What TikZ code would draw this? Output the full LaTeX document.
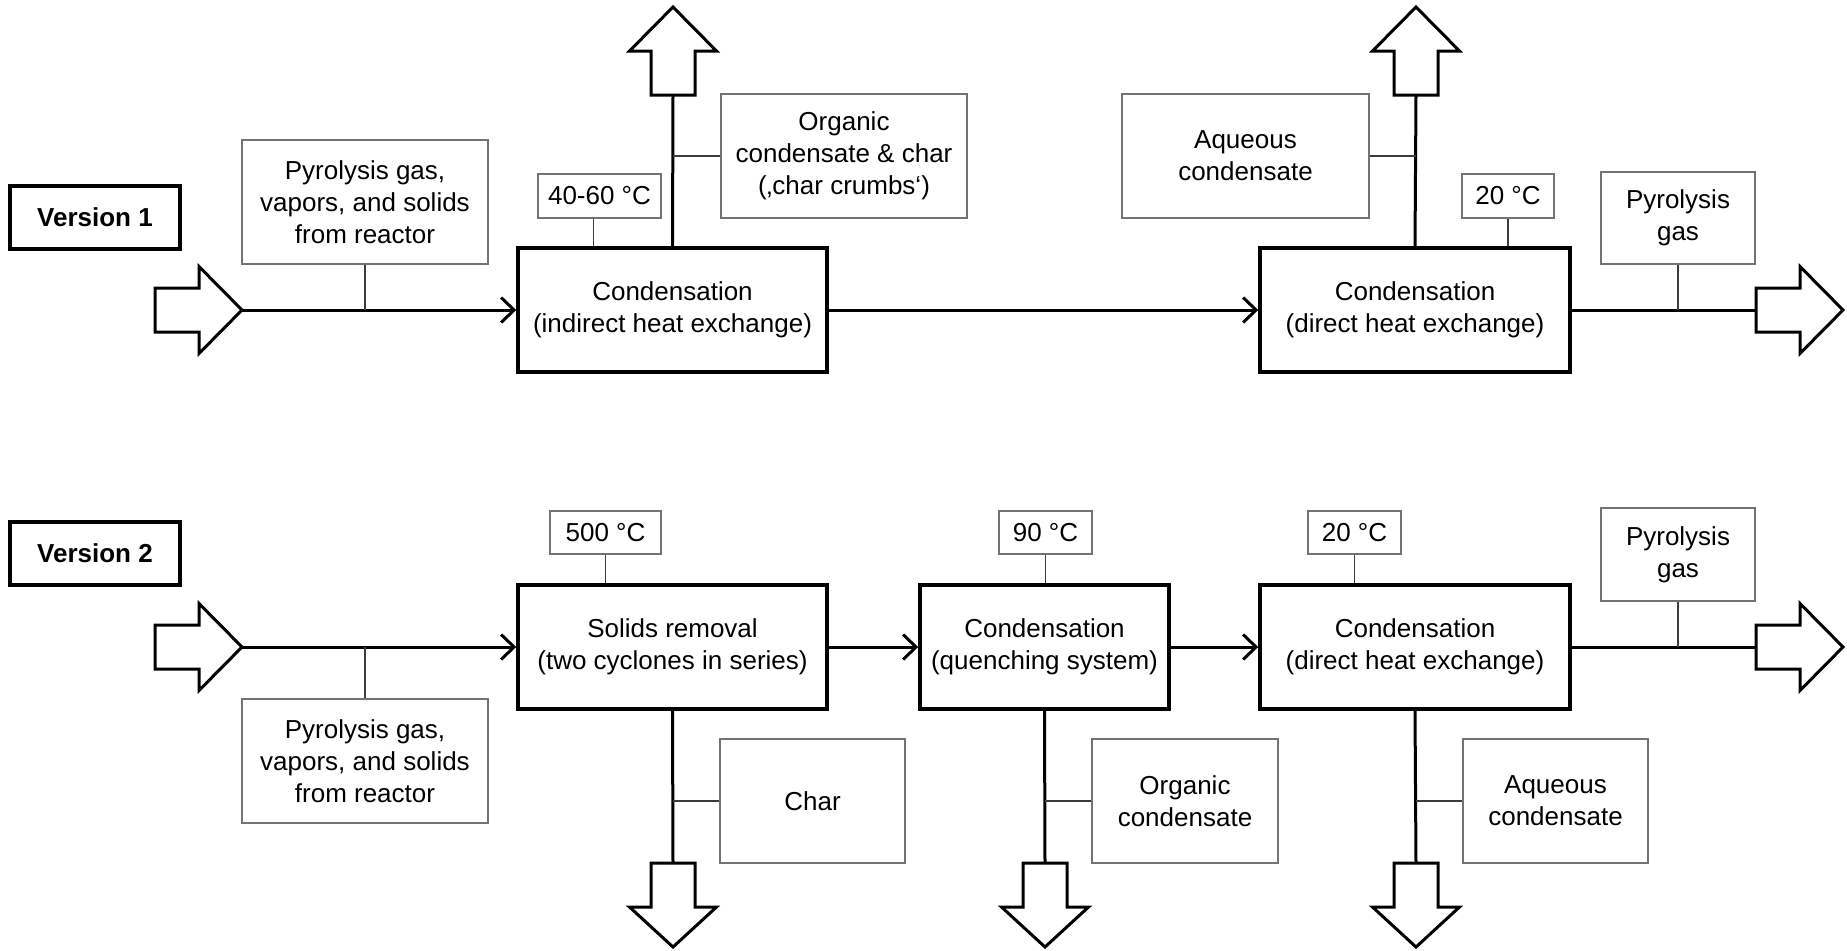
\documentclass[tikz,border=0pt]{standalone}
\usepackage{fontspec}
\setmainfont{Liberation Sans}
\usetikzlibrary{arrows.meta}
\definecolor{labgray}{RGB}{115,115,115}
\definecolor{tiegray}{RGB}{60,60,60}
\begin{document}
\begin{tikzpicture}[x=0.5pt,y=-0.5pt,
  every node/.style={font=\fontsize{13pt}{15.9pt}\selectfont},
  proc/.style={draw, line width=1.75pt, align=center, inner sep=0pt, fill=white, minimum height=62pt},
  lab/.style={draw=labgray, line width=0.6pt, align=center, inner sep=0pt, fill=white},
  vbox/.style={draw, line width=1.75pt, inner sep=0pt, minimum width=85pt, minimum height=31.5pt, font=\fontsize{13pt}{15.9pt}\selectfont\bfseries},
  flow/.style={line width=1.5pt},
  flowarr/.style={line width=1.5pt, -{Straight Barb[length=6.5pt,width=12.5pt]}},
  tie/.style={line width=0.6pt, draw=tiegray},
  fat/.style={line width=1.5pt, fill=white, line join=miter}]
\useasboundingbox (0,0) rectangle (1847,950);

% ---------- Version 1 ----------
\node[vbox] (v1) at (95,217.5) {Version 1};
\node[proc, minimum width=154.5pt] (p1) at (672.5,310) {Condensation\\(indirect heat exchange)};
\node[proc, minimum width=155pt] (p2) at (1415,310) {Condensation\\(direct heat exchange)};

\node[lab, minimum width=123pt, minimum height=62pt] (feed1) at (365,202) {Pyrolysis gas,\\vapors, and solids\\from reactor};
\node[lab, minimum width=61.5pt, minimum height=22pt] (t1) at (599.5,196) {40-60 °C};
\node[lab, minimum width=123pt, minimum height=62pt] (org1) at (844,156) {Organic\\condensate \& char\\(‚char crumbs‘)};
\node[lab, minimum width=123.5pt, minimum height=62pt] (aq1) at (1245.5,156) {Aqueous\\condensate};
\node[lab, minimum width=46pt, minimum height=22pt] (t2) at (1508,196) {20 °C};
\node[lab, minimum width=77pt, minimum height=46pt] (gas1) at (1678,218) {Pyrolysis\\gas};

\coordinate (in1) at (242,310);
\coordinate (out1) at (1756,310);
\coordinate (up1) at (673,95);
\coordinate (up2) at (1416,95);

\draw[fat] (in1) -- (199,266.5) -- (199,288) -- (155,288) -- (155,332) -- (199,332) -- (199,353.5) -- cycle;
\draw[fat] (1843,310) -- (1800,266.5) -- (1800,288) -- (1756,288) -- (1756,332) -- (1800,332) -- (1800,353.5) -- cycle;
\draw[fat] (673,7) -- (629.5,51) -- (651,51) -- (651,95) -- (695,95) -- (695,51) -- (716.5,51) -- cycle;
\draw[fat] (1416,7) -- (1372.5,51) -- (1394,51) -- (1394,95) -- (1438,95) -- (1438,51) -- (1459.5,51) -- cycle;

\draw[flowarr] (in1) -- (p1.west);
\draw[flowarr] (p1.east) -- (p2.west);
\draw[flow] (p2.east) -- (out1);
\draw[flow] (p1.north) -- (up1);
\draw[flow] (p2.north) -- (up2);

\draw[tie] (feed1.south) -- (feed1.south |- in1);
\draw[tie] ([xshift=-3pt]t1.south) -- ([xshift=-3pt]t1.south |- p1.north);
\draw[tie] (org1.west) -- (org1.west -| up1);
\draw[tie] (aq1.east) -- (aq1.east -| up2);
\draw[tie] (t2.south) -- (t2.south |- p2.north);
\draw[tie] (gas1.south) -- (gas1.south |- out1);

% ---------- Version 2 ----------
\node[vbox] (v2) at (95,553.5) {Version 2};
\node[proc, minimum width=154.5pt] (s1) at (672.5,647) {Solids removal\\(two cyclones in series)};
\node[proc, minimum width=124.5pt] (q1) at (1044.5,647) {Condensation\\(quenching system)};
\node[proc, minimum width=155pt] (s3) at (1415,647) {Condensation\\(direct heat exchange)};

\node[lab, minimum width=123pt, minimum height=62pt] (feed2) at (365,761) {Pyrolysis gas,\\vapors, and solids\\from reactor};
\node[lab, minimum width=55.5pt, minimum height=21.5pt] (t3) at (605.5,532.5) {500 °C};
\node[lab, minimum width=46.5pt, minimum height=21.5pt] (t4) at (1045.5,532.5) {90 °C};
\node[lab, minimum width=46.5pt, minimum height=21.5pt] (t5) at (1354.5,532.5) {20 °C};
\node[lab, minimum width=77pt, minimum height=46.5pt] (gas2) at (1678,554.5) {Pyrolysis\\gas};
\node[lab, minimum width=92.5pt, minimum height=62pt] (char) at (812.5,801) {Char};
\node[lab, minimum width=93pt, minimum height=62pt] (org2) at (1185,801) {Organic\\condensate};
\node[lab, minimum width=92.5pt, minimum height=62pt] (aq2) at (1555.5,801) {Aqueous\\condensate};

\coordinate (in2) at (242,647);
\coordinate (out2) at (1756,647);
\coordinate (dn1) at (673,863);
\coordinate (dn2) at (1045,863);
\coordinate (dn3) at (1416,863);

\draw[fat] (in2) -- (199,603.5) -- (199,625) -- (155,625) -- (155,669) -- (199,669) -- (199,690.5) -- cycle;
\draw[fat] (1843,647) -- (1800,603.5) -- (1800,625) -- (1756,625) -- (1756,669) -- (1800,669) -- (1800,690.5) -- cycle;
\draw[fat] (673,947) -- (629.5,907) -- (651,907) -- (651,863) -- (695,863) -- (695,907) -- (716.5,907) -- cycle;
\draw[fat] (1045,947) -- (1001.5,907) -- (1023,907) -- (1023,863) -- (1067,863) -- (1067,907) -- (1088.5,907) -- cycle;
\draw[fat] (1416,947) -- (1372.5,907) -- (1394,907) -- (1394,863) -- (1438,863) -- (1438,907) -- (1459.5,907) -- cycle;

\draw[flowarr] (in2) -- (s1.west);
\draw[flowarr] (s1.east) -- (q1.west);
\draw[flowarr] (q1.east) -- (s3.west);
\draw[flow] (s3.east) -- (out2);
\draw[flow] (s1.south) -- (dn1);
\draw[flow] (q1.south) -- (dn2);
\draw[flow] (s3.south) -- (dn3);

\draw[tie] (feed2.north) -- (feed2.north |- in2);
\draw[tie] (t3.south) -- (t3.south |- s1.north);
\draw[tie] (t4.south) -- (t4.south |- q1.north);
\draw[tie] (t5.south) -- (t5.south |- s3.north);
\draw[tie] (gas2.south) -- (gas2.south |- out2);
\draw[tie] (char.west) -- (char.west -| dn1);
\draw[tie] (org2.west) -- (org2.west -| dn2);
\draw[tie] (aq2.west) -- (aq2.west -| dn3);
\end{tikzpicture}
\end{document}
